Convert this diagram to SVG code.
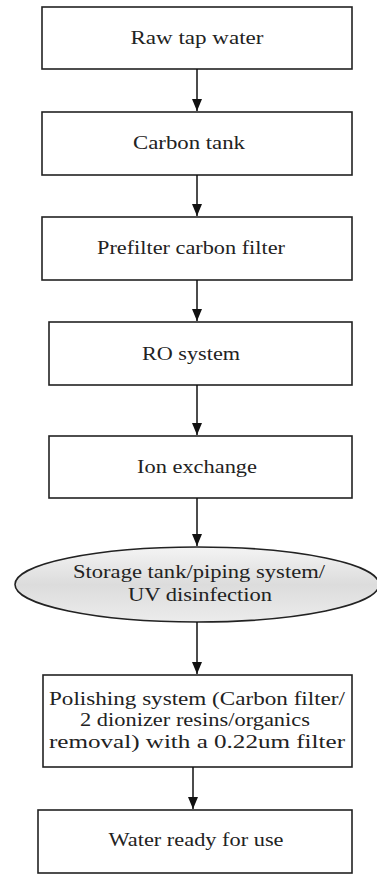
<svg xmlns="http://www.w3.org/2000/svg" width="377" height="874" viewBox="0 0 377 874">
<defs>
<marker id="ah" markerWidth="12" markerHeight="10" refX="12" refY="5" orient="auto" markerUnits="userSpaceOnUse" viewBox="0 0 12 10">
<path d="M0,0 L12,5 L0,10 Z" fill="#111"/>
</marker>
<linearGradient id="eg" x1="0" y1="0" x2="0" y2="1">
<stop offset="0" stop-color="#f4f4f4"/>
<stop offset="0.5" stop-color="#dcdcdc"/>
<stop offset="1" stop-color="#ececec"/>
</linearGradient>
<style>
.box{fill:#fff;stroke:#222;stroke-width:1.6}
.t{font-family:"Liberation Serif","Times New Roman",serif;font-size:19px;fill:#222;text-anchor:middle}
.c line{stroke:#111;stroke-width:1.5;marker-end:url(#ah)}
</style>
</defs>
<rect width="377" height="874" fill="#fff"/>
<g id="n1"><rect class="box" x="42" y="7" width="310" height="62"/><text class="t" x="197" y="44" textLength="133" lengthAdjust="spacingAndGlyphs">Raw tap water</text></g>
<g id="n2"><rect class="box" x="42" y="112" width="310" height="63"/><text class="t" x="189" y="149" textLength="112" lengthAdjust="spacingAndGlyphs">Carbon tank</text></g>
<g id="n3"><rect class="box" x="42" y="217" width="310" height="63"/><text class="t" x="191" y="254" textLength="188" lengthAdjust="spacingAndGlyphs">Prefilter carbon filter</text></g>
<g id="n4"><rect class="box" x="49" y="322" width="303" height="63"/><text class="t" x="191" y="360" textLength="98" lengthAdjust="spacingAndGlyphs">RO system</text></g>
<g id="n5"><rect class="box" x="49" y="436" width="303" height="62"/><text class="t" x="197" y="473" textLength="120" lengthAdjust="spacingAndGlyphs">Ion exchange</text></g>
<g id="n6"><ellipse cx="197" cy="584.5" rx="182" ry="37.5" fill="url(#eg)" stroke="#222" stroke-width="1.6"/><text class="t" x="199" y="578" textLength="252" lengthAdjust="spacingAndGlyphs">Storage tank/piping system/</text><text class="t" x="200" y="601" textLength="144" lengthAdjust="spacingAndGlyphs">UV disinfection</text></g>
<g id="n7"><rect class="box" x="43" y="675" width="309" height="92"/><text class="t" x="197" y="705" textLength="296" lengthAdjust="spacingAndGlyphs">Polishing system (Carbon filter/</text><text class="t" x="195" y="726" textLength="230" lengthAdjust="spacingAndGlyphs">2 dionizer resins/organics</text><text class="t" x="197" y="748" textLength="296" lengthAdjust="spacingAndGlyphs">removal) with a 0.22um filter</text></g>
<g id="n8"><rect class="box" x="38" y="810" width="314" height="63"/><text class="t" x="196" y="846" textLength="175" lengthAdjust="spacingAndGlyphs">Water ready for use</text></g>
<g class="c" id="connectors">
<line x1="197" y1="69" x2="197" y2="111"/>
<line x1="197" y1="175" x2="197" y2="216"/>
<line x1="197" y1="280" x2="197" y2="321"/>
<line x1="197" y1="385" x2="197" y2="435"/>
<line x1="197" y1="498" x2="197" y2="546"/>
<line x1="197" y1="622" x2="197" y2="674"/>
<line x1="193" y1="767" x2="193" y2="809"/>
</g>
</svg>
